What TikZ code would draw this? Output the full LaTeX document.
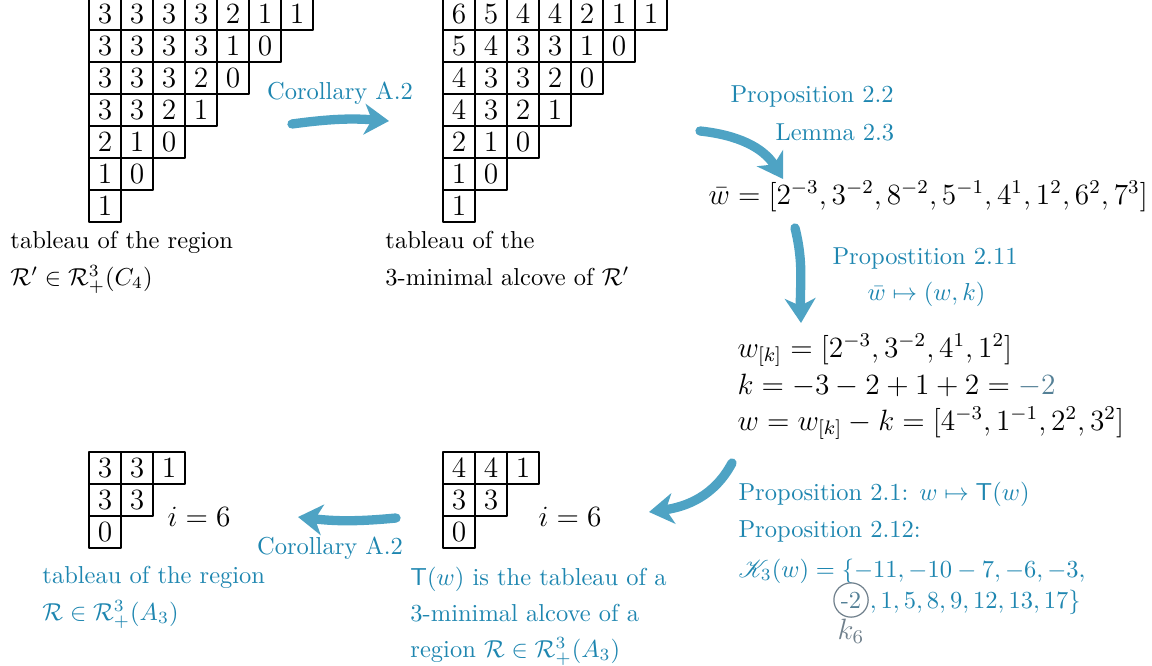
\documentclass[tikz,border=0pt]{standalone}
\usepackage{amsmath,amssymb,mathrsfs}
\usetikzlibrary{arrows.meta,positioning}
\definecolor{figteal}{RGB}{30,134,176}
\definecolor{figarrow}{RGB}{78,163,196}
\definecolor{figslate}{RGB}{84,128,150}
\definecolor{figgray}{RGB}{112,128,140}
\newcommand{\Reg}{\mathcal R}
\newcommand{\Tab}{\mathsf T}
\tikzset{
  every picture/.style={line cap=round,line join=round},
  cell/.style={draw=black,line width=.5pt,minimum size=13.07pt,
    inner sep=0pt,font=\large},
  lab/.style={anchor=base west,inner sep=0pt,text=black},
  teallab/.style={anchor=base west,inner sep=0pt,text=figteal},
  mathlab/.style={anchor=base west,inner sep=0pt,font=\large},
  flow/.style={-{Stealth[length=10pt,width=12.5pt,inset=3pt]},
    line width=3.8pt,draw=figarrow}
}

\begin{document}
\begin{tikzpicture}[x=.4082pt,y=.4082pt]
  \useasboundingbox (0,0) rectangle (1152,-665);

  % Tableau of the region R' (top left).
  \foreach \row [count=\r] in {{3,3,3,3,2,1,1},{3,3,3,3,1,0},{3,3,3,2,0},
                               {3,3,2,1},{2,1,0},{1,0},{1}}{
    \foreach \v [count=\c] in \row{
      \node[cell] (p\r\c) at (73+32*\c,18-32*\r) {\v};
    }
  }
  \node[lab] (ptxt) at (10,-248) {tableau of the region};
  \node[lab] (pset) at (10,-285) {$\Reg'\in\Reg^3_+(C_4)$};

  % Its 3-minimal alcove (top middle).
  \foreach \row [count=\r] in {{6,5,4,4,2,1,1},{5,4,3,3,1,0},{4,3,3,2,0},
                               {4,3,2,1},{2,1,0},{1,0},{1}}{
    \foreach \v [count=\c] in \row{
      \node[cell] (q\r\c) at (427+32*\c,18-32*\r) {\v};
    }
  }
  \node[lab] (qtxt) at (385,-248) {tableau of the};
  \node[lab] (qset) at (385,-285) {3-minimal alcove of $\Reg'$};

  \coordinate (a1s) at (292,-124);
  \coordinate (a1e) at (389,-121);
  \draw[flow] (a1s) to[bend left=6] (a1e);
  \node[teallab,anchor=base] (cor1) at (340,-100) {Corollary A.2};

  % From the alcove to the window notation.
  \coordinate (a2s) at (700,-131);
  \coordinate (a2e) at (783,-179);
  \draw[flow] (a2s) to[out=-6,in=122] (a2e);
  \node[teallab] (prop22) at (730,-103) {Proposition 2.2};
  \node[teallab] (lem23) at (775,-140) {Lemma 2.3};
  \node[mathlab] (wbar) at (708,-204)
    {$\bar w = [2^{-3},3^{-2},8^{-2},5^{-1},4^1,1^2,6^2,7^3]$};

  \coordinate (a3s) at (795,-228);
  \coordinate (a3e) at (801,-323);
  \draw[flow] (a3s) to[out=-76,in=92] (a3e);
  \node[teallab] (prop211) at (832,-264) {Propostition 2.11};
  \node[teallab] (wmap) at (867,-300) {$\bar w\mapsto(w,k)$};

  \node[mathlab] (wk) at (737,-357) {$w_{[k]} = [2^{-3},3^{-2},4^1,1^2]$};
  \node[mathlab] (kval) at (737,-394)
    {$k = -3-2+1+2 = {\color{figslate}-2}$};
  \node[mathlab] (wval) at (737,-430)
    {$w = w_{[k]}-k = [4^{-3},1^{-1},2^2,3^2]$};

  % Back to the tableau T(w).
  \coordinate (a4s) at (732,-463);
  \coordinate (a4e) at (649,-512);
  \draw[flow] (a4s) to[out=-118,in=8] (a4e);
  \node[teallab] (prop21) at (738,-500)
    {Proposition 2.1: $w\mapsto\Tab(w)$};
  \node[teallab] (prop212) at (738,-537) {Proposition 2.12:};
  \node[teallab] (kset) at (738,-577)
    {$\mathscr K_3(w) = \{-11,-10-7,-6,-3,$};
  \node[circle,draw=figgray,line width=.5pt,minimum size=14pt,inner sep=0pt,
    text=figslate] (k6c) at (851,-600) {-2};
  \node[teallab] (krest) at ([xshift=.2pt]k6c.east |- 0,-608)
    {$,1,5,8,9,12,13,17\}$};
  \node[anchor=base,inner sep=0pt,font=\large,text=figgray] (k6) at (851,-639)
    {$k_6$};

  % Tableau T(w) (bottom middle).
  \foreach \row [count=\r] in {{4,4,1},{3,3},{0}}{
    \foreach \v [count=\c] in \row{
      \node[cell] (t\r\c) at (427+32*\c,-436-32*\r) {\v};
    }
  }
  \node[mathlab,anchor=base] (ti) at (570,-526) {$i=6$};
  \node[teallab] (ttxt) at (410,-585) {$\Tab(w)$ is the tableau of a};
  \node[teallab] (tmid) at (410,-621) {3-minimal alcove of a};
  \node[teallab] (tset) at (410,-657) {region $\Reg\in\Reg^3_+(A_3)$};

  % Tableau of the region R (bottom left).
  \foreach \row [count=\r] in {{3,3,1},{3,3},{0}}{
    \foreach \v [count=\c] in \row{
      \node[cell] (r\r\c) at (73+32*\c,-436-32*\r) {\v};
    }
  }
  \node[mathlab,anchor=base] (ri) at (199,-526) {$i=6$};
  \node[teallab] (rtxt) at (42,-583) {tableau of the region};
  \node[teallab] (rset) at (42,-620) {$\Reg\in\Reg^3_+(A_3)$};

  \coordinate (a5s) at (396,-518);
  \coordinate (a5e) at (298,-517);
  \draw[flow] (a5s) to[bend left=6] (a5e);
  \node[teallab,anchor=base] (cor2) at (330,-554) {Corollary A.2};
\end{tikzpicture}
\end{document}
